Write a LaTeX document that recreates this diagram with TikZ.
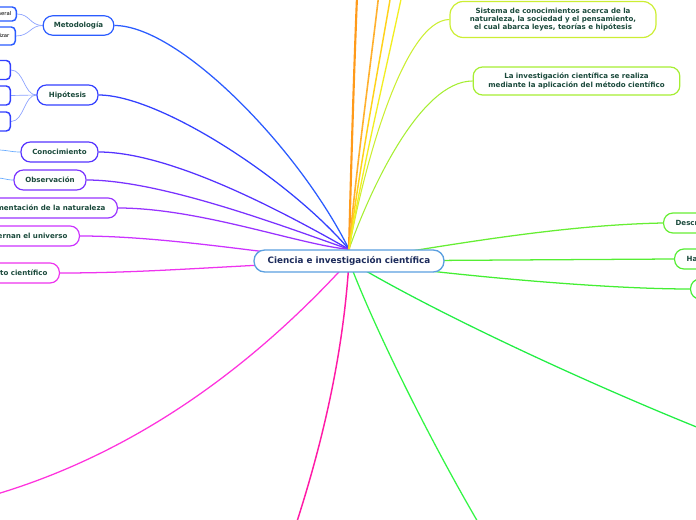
\documentclass[tikz,border=0pt]{standalone}
\usepackage{fontspec}
\setmainfont{DejaVu Sans}
\pgfdeclarelayer{bg}
\pgfsetlayers{bg,main}
\definecolor{txt}{HTML}{1B4A3C}
\definecolor{roottxt}{HTML}{1C2B5B}
\definecolor{rootbd}{HTML}{5A9FE0}
\definecolor{cMet}{HTML}{2B5CFF}
\definecolor{cHip}{HTML}{3340FF}
\definecolor{cCon}{HTML}{5533FF}
\definecolor{cObs}{HTML}{7A33FF}
\definecolor{cExp}{HTML}{9933FF}
\definecolor{cGob}{HTML}{CC33FF}
\definecolor{cCie}{HTML}{EE33EE}
\definecolor{cPinkL}{HTML}{FF33DD}
\definecolor{cPinkD}{HTML}{FF1AA6}
\definecolor{cGreenD}{HTML}{33F544}
\definecolor{cGreenR}{HTML}{22EE44}
\definecolor{cC3}{HTML}{44EE33}
\definecolor{cHa}{HTML}{55EE33}
\definecolor{cDes}{HTML}{66EE33}
\definecolor{cInv}{HTML}{A6EE33}
\definecolor{cSis}{HTML}{CCEE33}
\definecolor{cY1}{HTML}{F2EE22}
\definecolor{cY2}{HTML}{FFD21A}
\definecolor{cO2}{HTML}{FFB02E}
\definecolor{cO1}{HTML}{FF9A1A}
\definecolor{cSubM}{HTML}{8AA0FF}
\definecolor{cSubC}{HTML}{66AAFF}
\begin{document}
\begin{tikzpicture}[x=0.75pt,y=-0.75pt,
  branch/.style={draw, rounded corners=7pt, fill=white, line width=0.9pt, text=txt,
    font=\fontsize{5.3}{6.2}\selectfont\bfseries, align=center, inner sep=0pt, minimum height=15pt},
  leafbox/.style={draw, rounded corners=3pt, fill=white, line width=1.1pt, text=black,
    font=\fontsize{4}{5}\selectfont, inner sep=0pt, anchor=east},
  link/.style={line width=0.95pt},
  sublink/.style={line width=0.5pt}]
\useasboundingbox (0,0) rectangle (696,520);
\clip (0,0) rectangle (696,520);

% root
\node[draw=rootbd, fill=white, line width=1pt, rounded corners=8pt, minimum width=142.5pt,
  minimum height=16.5pt, inner sep=0pt, text=roottxt, font=\fontsize{6.6}{8}\selectfont\bfseries]
  (root) at (349,261) {Ciencia e investigación científica};

% left branches
\node[branch, draw=cMet, minimum width=53pt, minimum height=14.5pt] (met) at (78.5,25.5) {Metodología};
\node[branch, draw=cHip, minimum width=45.75pt] (hip) at (67.5,95) {Hipótesis};
\node[branch, draw=cCon, minimum width=57.75pt] (con) at (59.5,152) {Conocimiento};
\node[branch, draw=cObs, minimum width=54pt] (obs) at (50,180) {Observación};
\node[branch, draw=cExp, anchor=east, inner xsep=9pt] (exp) at (118,208) {mentación de la naturaleza};
\node[branch, draw=cGob, anchor=east, inner xsep=9pt] (gob) at (80,236) {ernan el universo};
\node[branch, draw=cCie, anchor=east, inner xsep=9pt] (cie) at (60,273) {to científico};

% children of Metodología
\node[leafbox, draw=cMet, minimum height=10.5pt, inner xsep=3.75pt] (m1) at (17,14) {neral};
\node[leafbox, draw=cMet, minimum height=13.5pt, inner xsep=4.5pt] (m2) at (16,36) {izar};
% children of Hipótesis
\node[leafbox, draw=cHip, minimum height=14.25pt, minimum width=30pt] (h1) at (11,70) {};
\node[leafbox, draw=cHip, minimum height=14.25pt, minimum width=30pt] (h2) at (11,95.5) {};
\node[leafbox, draw=cHip, minimum height=14.25pt, minimum width=30pt] (h3) at (11,121.5) {};
\coordinate (conL) at (-3,150);
\coordinate (obsL) at (-3,178);

% right branches
\node[branch, draw=cDes, anchor=west, inner xsep=9pt] (des) at (663,223) {Descr};
\node[branch, draw=cHa, anchor=west, inner xsep=9pt] (ha) at (674,259) {Ha};
\node[branch, draw=cC3, anchor=west, minimum width=30pt] (c3) at (690,289) {};

% top branches
\node[branch, draw=cInv, minimum width=155pt, minimum height=21pt] (inv) at (576.5,81)
  {La investigación científica se realiza\\mediante la aplicación del método científico};
\node[branch, draw=cSis, minimum width=154.5pt, minimum height=27pt, rounded corners=10pt] (sis) at (553,19.5)
  {Sistema de conocimientos acerca de la\\naturaleza, la sociedad y el pensamiento,\\el cual abarca leyes, teorías e hipótesis};

% free ends
\coordinate (o1) at (357,-3);
\coordinate (o2) at (378.5,-3);
\coordinate (y2) at (390.5,-3);
\coordinate (y1) at (401.5,-3);
\coordinate (pL) at (-3,494);
\coordinate (pD) at (296.5,523);
\coordinate (gD) at (478.5,523);
\coordinate (gR) at (699,428);

\begin{pgfonlayer}{bg}
% left
\draw[link, cMet] (met.east) .. controls (180,25.5) and (300,150) .. (root.north);
\draw[link, cHip] (hip.east) .. controls (160,95) and (290,180) .. (root.north);
\draw[link, cCon] (con.east) .. controls (170,152) and (280,210) .. (root.north);
\draw[link, cObs] (obs.east) .. controls (160,180) and (280,225) .. (root.north);
\draw[link, cExp] (exp.east) .. controls (200,208) and (300,245) .. (root.north);
\draw[link, cGob] (gob.east) .. controls (170,236) and (280,256) .. (root.center);
\draw[link, cCie] (cie.east) .. controls (150,273) and (220,266) .. (root.center);
% sub links
\draw[sublink, cSubM] (met.west) .. controls (30,25.5) and (30,14) .. (m1.east);
\draw[sublink, cSubM] (met.west) .. controls (30,25.5) and (30,36) .. (m2.east);
\draw[sublink, cSubM] (hip.west) .. controls (24,95) and (24,70) .. (h1.east);
\draw[sublink, cSubM] (hip.west) -- (h2.east);
\draw[sublink, cSubM] (hip.west) .. controls (24,95) and (24,121.5) .. (h3.east);
\draw[sublink, cSubC] (con.west) .. controls (10,152) and (8,150) .. (conL);
\draw[sublink, cSubC] (obs.west) .. controls (6,180) and (4,178) .. (obsL);
% bottom
\draw[link, cPinkL] (root.center) .. controls (239,382) and (120,457) .. (pL);
\draw[link, cPinkD, line width=1.1pt] (root.center) .. controls (343,360) and (320,450) .. (pD);
\draw[link, cGreenD] (root.center) .. controls (375,330) and (430,440) .. (gD);
\draw[link, cGreenR] (root.center) .. controls (430,310) and (580,380) .. (gR);
% right
\draw[link, cC3] (root.center) .. controls (450,275) and (600,289) .. (c3.west);
\draw[link, cHa] (root.center) -- (ha.west);
\draw[link, cDes] (root.center) .. controls (450,245) and (560,225) .. (des.west);
% top
\draw[link, cInv, line width=0.8pt] (root.north) .. controls (370,190) and (420,81) .. (inv.west);
\draw[link, cSis, line width=0.8pt] (root.north) .. controls (365,160) and (405,20) .. (sis.west);
\draw[cO1, line width=1.6pt] (root.north) .. controls (351,170) and (354,70) .. (o1);
\draw[cO2, line width=1.2pt] (root.north) .. controls (356,170) and (370,70) .. (o2);
\draw[cY2, line width=1.1pt] (root.north) .. controls (359,170) and (378,70) .. (y2);
\draw[cY1, line width=1pt] (root.north) .. controls (362,170) and (386,70) .. (y1);
\end{pgfonlayer}
\end{tikzpicture}
\end{document}
